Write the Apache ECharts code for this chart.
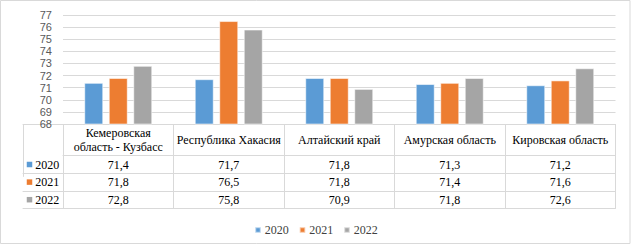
<!DOCTYPE html>
<html>
<head>
<meta charset="utf-8">
<script src="https://cdn.jsdelivr.net/npm/echarts@6/dist/echarts.min.js"></script>
<style>
html,body{margin:0;padding:0;background:#fff;}
#chart{width:632px;height:246px;}
</style>
</head>
<body>
<div id="chart"></div>
<script>
// ---- data ----
var categories = ['Кемеровская\nобласть - Кузбасс', 'Республика Хакасия', 'Алтайский край', 'Амурская область', 'Кировская область'];
var seriesNames = ['2020', '2021', '2022'];
var values2020 = [71.4, 71.7, 71.8, 71.3, 71.2];
var values2021 = [71.8, 76.5, 71.8, 71.4, 71.6];
var values2022 = [72.8, 75.8, 70.9, 71.8, 72.6];
var yTicks = [68, 69, 70, 71, 72, 73, 74, 75, 76, 77];

// ---- styles ----
var colors = ['#5B9BD5', '#ED7D31', '#A5A5A5'];
var lineColor = '#d9d9d9';
var serif = 'Liberation Serif';
var sans = 'Liberation Sans';
var tfs = 12;
var allValues = [values2020, values2021, values2022];
var headerH = 31.7, rowH = 17.6;

function fmt(v) { return v.toFixed(1).replace('.', ','); }

var xAxes = [];
// header row axis (categories) with vertical table lines as ticks
xAxes.push({
  type: 'category', gridIndex: 0, data: categories, position: 'bottom', offset: 0,
  axisLine: { show: true, lineStyle: { color: lineColor, width: 1 } },
  axisTick: { show: true, interval: 0, length: headerH + 3 * rowH, lineStyle: { color: lineColor } },
  axisLabel: { interval: 0, margin: headerH / 2, verticalAlign: 'middle', fontFamily: serif, fontSize: tfs, lineHeight: 14, color: '#000' }
});
// value rows
allValues.forEach(function (vals, i) {
  xAxes.push({
    type: 'category', gridIndex: 0, data: categories, position: 'bottom', offset: headerH + i * rowH,
    axisLine: { show: true, lineStyle: { color: lineColor } },
    axisTick: { show: false },
    axisLabel: { interval: 0, margin: rowH / 2, verticalAlign: 'middle', fontFamily: serif, fontSize: tfs, lineHeight: 14, color: '#000',
      formatter: function (v, idx) { return fmt(vals[idx]); } }
  });
});
xAxes.push({
  type: 'category', gridIndex: 0, data: categories, position: 'bottom', offset: headerH + 3 * rowH,
  axisLine: { show: true, lineStyle: { color: lineColor } }, axisTick: { show: false }, axisLabel: { show: false }
});
// row header column (grid 1)
seriesNames.forEach(function (name, i) {
  xAxes.push({
    type: 'category', gridIndex: 1, data: [''], position: 'bottom', offset: headerH + i * rowH,
    axisLine: { show: true, lineStyle: { color: lineColor } },
    axisTick: { show: i === 0, interval: 0, length: 3 * rowH, lineStyle: { color: lineColor } },
    axisLabel: { interval: 0, margin: rowH / 2, verticalAlign: 'middle',
      formatter: function () { return '{m|}{t|' + name + '}'; },
      rich: {
        m: { width: 5.5, height: 5.5, backgroundColor: colors[i] },
        t: { fontFamily: serif, fontSize: tfs, lineHeight: 14, color: '#000', padding: [0, 0, 0, 3] }
      } }
  });
});
xAxes.push({
  type: 'category', gridIndex: 1, data: [''], position: 'bottom', offset: headerH + 3 * rowH,
  axisLine: { show: true, lineStyle: { color: lineColor } }, axisTick: { show: false }, axisLabel: { show: false }
});

var series = seriesNames.map(function (name, i) {
  return {
    name: name, type: 'bar', xAxisIndex: 0, yAxisIndex: 0, data: allValues[i],
    barWidth: 19, barGap: '29%',
    itemStyle: { color: colors[i], borderColor: 'rgba(255,255,255,0.55)', borderWidth: 1 }
  };
});

var chart = echarts.init(document.getElementById('chart'), null, { renderer: 'svg' });
chart.setOption({
  animation: false,
  backgroundColor: '#fff',
  textStyle: { fontFamily: serif },
  grid: [
    { left: 63, right: 16.5, top: 15, bottom: 122 },
    { left: 23, width: 40, top: 15, bottom: 122 }
  ],
  xAxis: xAxes,
  yAxis: [
    { type: 'value', gridIndex: 0, min: yTicks[0], max: yTicks[yTicks.length - 1], interval: 1,
      axisLine: { show: false }, axisTick: { show: false },
      axisLabel: { margin: 11, fontFamily: sans, fontSize: 11, lineHeight: 11, color: '#595959' },
      splitLine: { show: true, lineStyle: { color: lineColor, width: 1 } } },
    { type: 'value', gridIndex: 1, show: false }
  ],
  legend: {
    data: seriesNames, top: 219, left: 'center', icon: 'rect', itemWidth: 5.5, itemHeight: 5.5, itemGap: 10,
    textStyle: { fontFamily: serif, fontSize: 12, color: '#404040', padding: [0, 0, 0, -1] }
  },
  graphic: [
    { type: 'rect', silent: true, shape: { x: 0.5, y: 0.5, width: 629.5, height: 243 },
      style: { fill: 'none', stroke: lineColor, lineWidth: 1 } }
  ],
  series: series
});
</script>
</body>
</html>
